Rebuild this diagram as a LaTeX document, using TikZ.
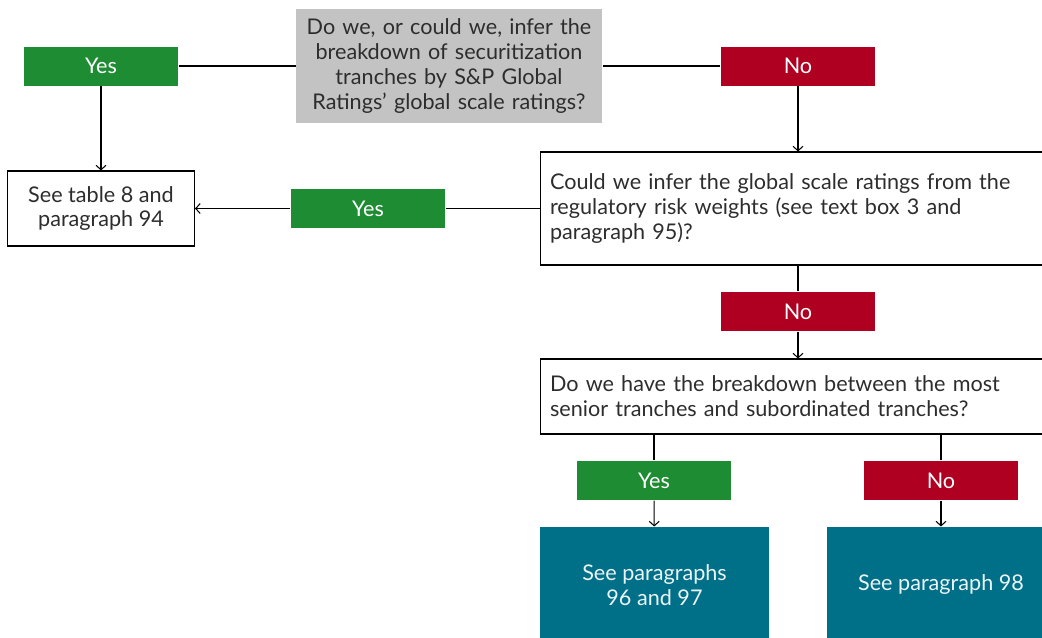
\documentclass[tikz,border=0pt]{standalone}
\usepackage{fontspec}
\setmainfont{Lato}
\usetikzlibrary{arrows.meta}
\definecolor{yesgreen}{RGB}{30,140,50}
\definecolor{nored}{RGB}{176,0,34}
\definecolor{answerteal}{RGB}{0,111,136}
\definecolor{questiongrey}{RGB}{195,195,195}
\definecolor{textgrey}{RGB}{45,45,45}

\begin{document}
\begin{tikzpicture}[x=0.02cm, y=-0.02cm, line width=0.6pt,
        font=\fontsize{12.3}{14.2}\selectfont,
        >={Straight Barb[length=0.9mm, width=2mm]},
        yesbox/.style={fill=yesgreen, text=white, minimum width=3.08cm, minimum height=0.78cm, inner sep=0pt},
        nobox/.style={yesbox, fill=nored},
        askbox/.style={draw, text=textgrey, align=left, inner xsep=0.2cm, minimum width=10.32cm, text width=9.92cm},
        endbox/.style={fill=answerteal, text=white!92!answerteal, align=center, minimum width=4.58cm, minimum height=2.32cm}]
    \useasboundingbox (0, 0) rectangle (1042, 637);

    \node[fill=questiongrey, text=textgrey, align=center, text width=5.9cm, minimum width=6.12cm, minimum height=2.3cm, inner sep=0pt] (Q1) at (449, 66)
        {Do we, or could we, infer the\\ breakdown of securitization\\ tranches by S\&P Global\\ Ratings’ global scale ratings?};
    \node[yesbox] (Y1) at (101, 66) {Yes};
    \node[nobox] (N1) at (798, 66) {No};

    \node[draw, text=textgrey, align=center, minimum width=3.74cm, minimum height=1.5cm] (A1) at (101, 208.5) {See table 8 and\\ paragraph 94};
    \node[yesbox] (Y2) at (368, 208.5) {Yes};
    \node[askbox, minimum height=2.26cm] (Q2) at (798, 208.5)
        {Could we infer the global scale ratings from the\\ regulatory risk weights (see text box 3 and\\ paragraph 95)?};

    \node[nobox] (N2) at (798, 311.5) {No};
    \node[askbox, minimum height=1.5cm] (Q3) at (798, 396.5)
        {Do we have the breakdown between the most\\ senior tranches and subordinated tranches?};

    \node[yesbox] (Y3) at (654, 480.5) {Yes};
    \node[nobox] (N3) at (941, 480.5) {No};
    \node[endbox] (A2) at (654.5, 585) {See paragraphs\\ 96 and 97};
    \node[endbox] (A3) at (941, 585) {See paragraph 98};

    \draw (Y1) -- (Q1);
    \draw (Q1) -- (N1);
    \draw[->] (Y1) -- (A1);
    \draw[->] (N1) -- (N1 |- Q2.north);
    \draw (Q2) -- (Y2);
    \draw[->] (Y2) -- (A1);
    \draw (Q2) -- (N2);
    \draw[->] (N2) -- (Q3);
    \draw (Y3 |- Q3.south) -- (Y3);
    \draw (N3 |- Q3.south) -- (N3);
    \draw[->] (Y3) -- (A2);
    \draw[->] (N3) -- (A3);
\end{tikzpicture}
\end{document}
